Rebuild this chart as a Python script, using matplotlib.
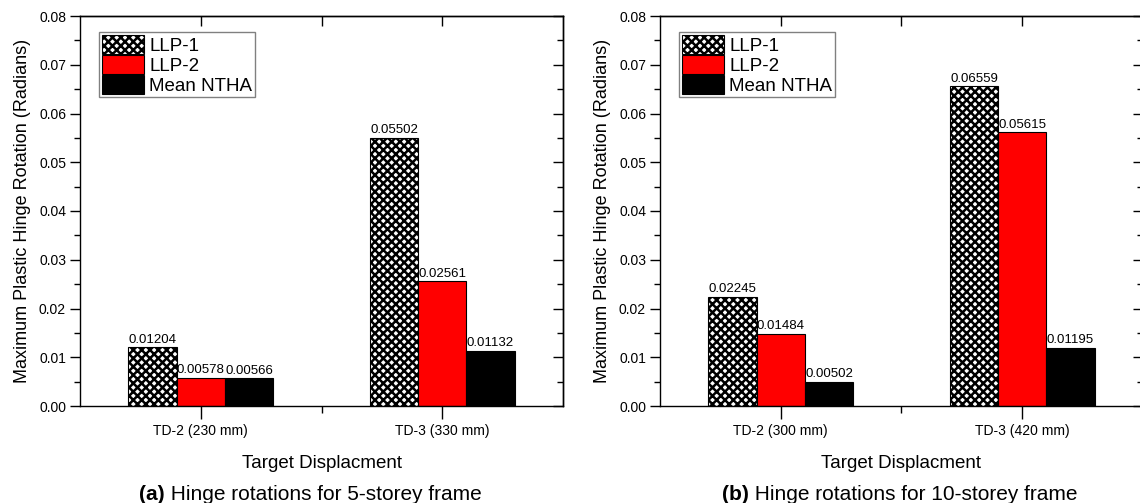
import numpy as np
import matplotlib
matplotlib.use('Agg')
import matplotlib.pyplot as plt
from matplotlib.ticker import MultipleLocator, FixedLocator, FormatStrFormatter

plt.rcParams['font.family'] = ['Liberation Sans', 'DejaVu Sans']
plt.rcParams['hatch.linewidth'] = 1.8
plt.rcParams['axes.linewidth'] = 1.0

# hinge rotation results (radians)
series_names = ['LLP-1', 'LLP-2', 'Mean NTHA']

cats_5 = ['TD-2 (230 mm)', 'TD-3 (330 mm)']
llp1_5 = [0.01204, 0.05502]
llp2_5 = [0.00578, 0.02561]
ntha_5 = [0.00566, 0.01132]

cats_10 = ['TD-2 (300 mm)', 'TD-3 (420 mm)']
llp1_10 = [0.02245, 0.06559]
llp2_10 = [0.01484, 0.05615]
ntha_10 = [0.00502, 0.01195]

captions = [('(a)', ' Hinge rotations for 5-storey frame'),
            ('(b)', ' Hinge rotations for 10-storey frame')]

W, H = 1140, 503
fig = plt.figure(figsize=(W / 100, H / 100), dpi=100)

axes_px = [(80, 16, 483, 390), (660, 16, 483, 390)]
caption_x = [139, 722]


def draw_panel(ax, cats, values):
    x = np.arange(1, len(cats) + 1)
    w = 0.2
    styles = [dict(facecolor='white', hatch='xxxx'),
              dict(facecolor='#ff0000'),
              dict(facecolor='black')]
    for i, (vals, name, st) in enumerate(zip(values, series_names, styles)):
        bars = ax.bar(x + (i - 1) * w, vals, w, label=name,
                      edgecolor='black', linewidth=0.8, **st)
        for b, v in zip(bars, vals):
            ax.text(b.get_x() + b.get_width() / 2, v + 0.0003, f'{v:.5f}',
                    ha='center', va='bottom', fontsize=9.5)

    ax.set_xlim(0.5, 2.5)
    ax.set_ylim(0, 0.08)
    ax.set_xticks(x)
    ax.set_xticklabels(cats)
    ax.xaxis.set_minor_locator(FixedLocator([1.5]))
    ax.yaxis.set_major_locator(MultipleLocator(0.01))
    ax.yaxis.set_minor_locator(MultipleLocator(0.005))
    ax.yaxis.set_major_formatter(FormatStrFormatter('%.2f'))

    ax.tick_params(axis='both', which='both', direction='out', top=False,
                   right=False, labelsize=10, width=1.0)
    ax.tick_params(axis='y', which='major', length=7, pad=3)
    ax.tick_params(axis='y', which='minor', length=4)
    ax.tick_params(axis='x', which='major', length=9, pad=4)
    ax.tick_params(axis='x', which='minor', length=5)

    # inward ticks on the top and right spines
    top = ax.secondary_xaxis('top')
    top.set_xticks(x)
    top.xaxis.set_minor_locator(FixedLocator([1.5]))
    top.tick_params(which='both', direction='in', length=7, width=1.0,
                    labeltop=False)
    right = ax.secondary_yaxis('right')
    right.yaxis.set_major_locator(MultipleLocator(0.01))
    right.yaxis.set_minor_locator(MultipleLocator(0.005))
    right.tick_params(which='major', direction='in', length=7, width=1.0,
                      labelright=False)
    right.tick_params(which='minor', direction='in', length=4, width=1.0)

    ax.set_xlabel('Target Displacment', fontsize=13.5, labelpad=12)
    ax.set_ylabel('Maximum Plastic Hinge Rotation (Radians)', fontsize=13,
                  labelpad=6)

    leg = ax.legend(loc='upper left', bbox_to_anchor=(0.039, 0.959),
                    borderaxespad=0, fontsize=13.5, handlelength=2.25,
                    handleheight=1.2, labelspacing=0.0, handletextpad=0.3,
                    borderpad=0.15, fancybox=False, framealpha=1)
    leg.get_frame().set_edgecolor('#808080')
    leg.get_frame().set_linewidth(1.0)


panels = [(cats_5, [llp1_5, llp2_5, ntha_5]),
          (cats_10, [llp1_10, llp2_10, ntha_10])]

for (l, t, w, h), (cats, vals), cap, cx in zip(axes_px, panels, captions,
                                               caption_x):
    ax = fig.add_axes([l / W, (H - t - h) / H, w / W, h / H])
    draw_panel(ax, cats, vals)
    # bold panel letter followed by the plain caption text
    c1 = fig.text(cx / W, 3 / H, cap[0], fontsize=15, fontweight='bold',
                  ha='left', va='baseline')
    ax.annotate(cap[1], xy=(1, 0), xycoords=c1, fontsize=15,
                ha='left', va='bottom', annotation_clip=False)

fig.savefig('out.png', dpi=100)
